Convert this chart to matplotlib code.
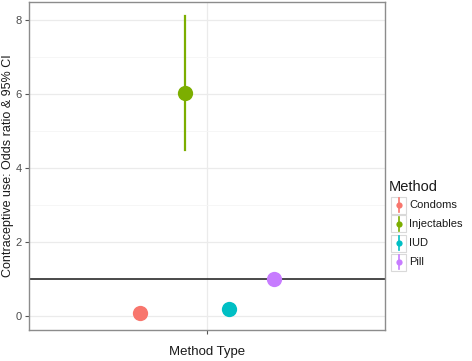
import numpy as np
import matplotlib.pyplot as plt
from matplotlib.patches import Rectangle
from matplotlib.lines import Line2D

plt.rcParams['font.family'] = ['Liberation Sans', 'DejaVu Sans']

# data
methods = ['Condoms', 'Injectables', 'IUD', 'Pill']
odds = [0.08, 6.03, 0.2, 1.0]
ci_low = [0.03, 4.5, 0.12, 0.92]
ci_high = [0.14, 8.13, 0.28, 1.08]
colors = ['#F8766D', '#7CAE00', '#00BFC4', '#C77CFF']

W, H = 472, 361
fig = plt.figure(figsize=(W / 100, H / 100), dpi=100)
ax = fig.add_axes([29 / W, 1 - 330 / H, (385 - 29) / W, (330 - 2) / H])

# dodge the four methods around the single category
xpos = 1 + (np.arange(len(methods)) - 1.5) * 0.15

ax.axhline(1, color='#1a1a1a', lw=1.1, zorder=2)
for x, y, lo, hi, c in zip(xpos, odds, ci_low, ci_high, colors):
    ax.plot([x, x], [lo, hi], color=c, lw=1.6, zorder=3)
    ax.plot(x, y, 'o', color=c, ms=11, mec='none', zorder=4)

ax.set_xlim(0.4, 1.6)
ax.set_ylim(-0.38, 8.5)
ax.set_xticks([1])
ax.set_xticklabels([''])
ax.set_yticks([0, 2, 4, 6, 8])
ax.set_yticks([1, 3, 5, 7], minor=True)
ax.grid(True, which='major', color='#EBEBEB', lw=0.9)
ax.grid(True, which='minor', axis='y', color='#F5F5F5', lw=0.6)
ax.set_axisbelow(True)
for s in ax.spines.values():
    s.set_color('#8c8c8c')
    s.set_linewidth(1)
ax.tick_params(axis='both', which='major', colors='#555555', labelsize=8, length=3, width=0.8, pad=2)
ax.tick_params(axis='both', which='minor', length=0)
ax.tick_params(axis='both', labelcolor='#4D4D4D')
ax.set_xlabel('Method Type', fontsize=9.5, color='#1a1a1a', va='center')
ax.set_ylabel('Contraceptive use: Odds ratio & 95% CI', fontsize=9, color='#1a1a1a', va='center')
ax.xaxis.set_label_coords(0.5, (330 - 352) / 328)
ax.yaxis.set_label_coords((8 - 29) / 356, 0.5)

# manual legend in ggplot style
tf = fig.transFigure
fig.text(389 / W, 1 - 187 / H, 'Method', fontsize=10.5, color='#1a1a1a', va='center', ha='left')
for i, (m, c) in enumerate(zip(methods, colors)):
    yc = 205 + i * 19
    fig.patches.append(Rectangle((391 / W, 1 - (yc + 8.5) / H), 15 / W, 17 / H,
                                 transform=tf, facecolor='white', edgecolor='#d9d9d9', lw=0.8))
    fig.lines.append(Line2D([398.5 / W, 398.5 / W], [1 - (yc + 7) / H, 1 - (yc - 7) / H],
                            transform=tf, color=c, lw=1.2))
    fig.lines.append(Line2D([398.5 / W], [1 - yc / H], transform=tf, marker='o', ms=4.5,
                            color=c, mec='none'))
    fig.text(409 / W, 1 - yc / H, m, fontsize=8, color='#1a1a1a', va='center', ha='left')

fig.savefig('out.png', dpi=100)
